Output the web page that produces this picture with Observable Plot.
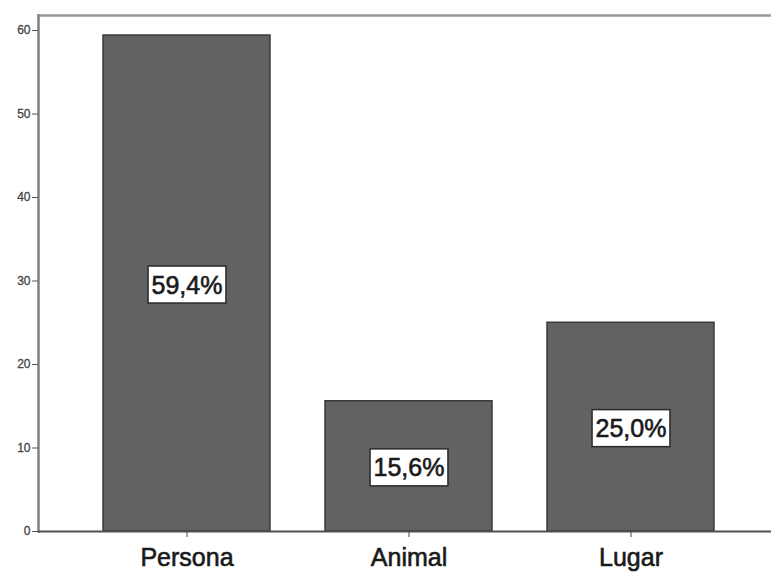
<!DOCTYPE html>
<html><head><meta charset="utf-8">
<script src="https://cdn.jsdelivr.net/npm/d3@7"></script>
<script src="https://cdn.jsdelivr.net/npm/@observablehq/plot@0.6"></script>
<style>body{margin:0;background:#fff}</style>
</head><body><div id="chart"></div>
<script>
const categories = ["Persona", "Animal", "Lugar"];
const values = [59.4, 15.6, 25.0];
const labels = ["59,4%", "15,6%", "25,0%"];
const yTicks = [0, 10, 20, 30, 40, 50, 60];
const data = categories.map((c, i) => ({cat: c, value: values[i], label: labels[i]}));

const chart = Plot.plot({
  width: 771, height: 572,
  marginTop: 15, marginBottom: 41, marginLeft: 38, marginRight: 0,
  style: {fontFamily: "Arial, 'Liberation Sans', sans-serif", background: "#fff", overflow: "visible"},
  x: {domain: categories, paddingInner: 0.247, paddingOuter: 0.27, align: 0.535, label: null},
  y: {domain: [0, 61.8], label: null},
  marks: [
    Plot.frame({anchor: "top", stroke: "#999", strokeWidth: 2.5}),
    Plot.barY(data, {x: "cat", y: "value", fill: "#626262", stroke: "#3a3a3a", strokeWidth: 1.5}),
    Plot.frame({anchor: "left", stroke: "#808080", strokeWidth: 2.5}),
    Plot.ruleY([0], {stroke: "#505050", strokeWidth: 2}),
    Plot.axisY({ticks: yTicks, tickSize: 6, tickPadding: 2, fontSize: 12, fill: "#444", stroke: "#555", label: null}),
    Plot.axisX({tickSize: 6, tickPadding: 11, fontSize: 25, fill: "#1a1a1a", stroke: "#444", label: null}),
    Plot.text(data, {x: "cat", y: d => d.value / 2, text: "label", fontSize: 25, fill: "#1a1a1a", dy: 2})
  ]
});
document.getElementById("chart").appendChild(chart);

// slightly heavier text, as in the reference rendering
chart.querySelectorAll('g[aria-label="x-axis tick label"] text, g[aria-label="text"] text').forEach(t => {
  t.setAttribute("stroke", "#1a1a1a");
  t.setAttribute("stroke-width", "0.6");
});
chart.querySelectorAll('g[aria-label="y-axis tick label"] text').forEach(t => {
  t.setAttribute("stroke", "#444");
  t.setAttribute("stroke-width", "0.3");
});

// white boxes behind the value labels
chart.querySelectorAll('g[aria-label="text"] text').forEach(t => {
  const b = t.getBBox();
  const r = document.createElementNS("http://www.w3.org/2000/svg", "rect");
  const px = 3.5, py = 4.5;
  r.setAttribute("x", b.x - px);
  r.setAttribute("y", b.y - py);
  r.setAttribute("width", b.width + 2 * px);
  r.setAttribute("height", b.height + 2 * py);
  r.setAttribute("fill", "#fff");
  r.setAttribute("stroke", "#2a2a2a");
  r.setAttribute("stroke-width", "1.5");
  if (t.getAttribute("transform")) r.setAttribute("transform", t.getAttribute("transform"));
  t.parentNode.insertBefore(r, t);
});
</script>
</body></html>
